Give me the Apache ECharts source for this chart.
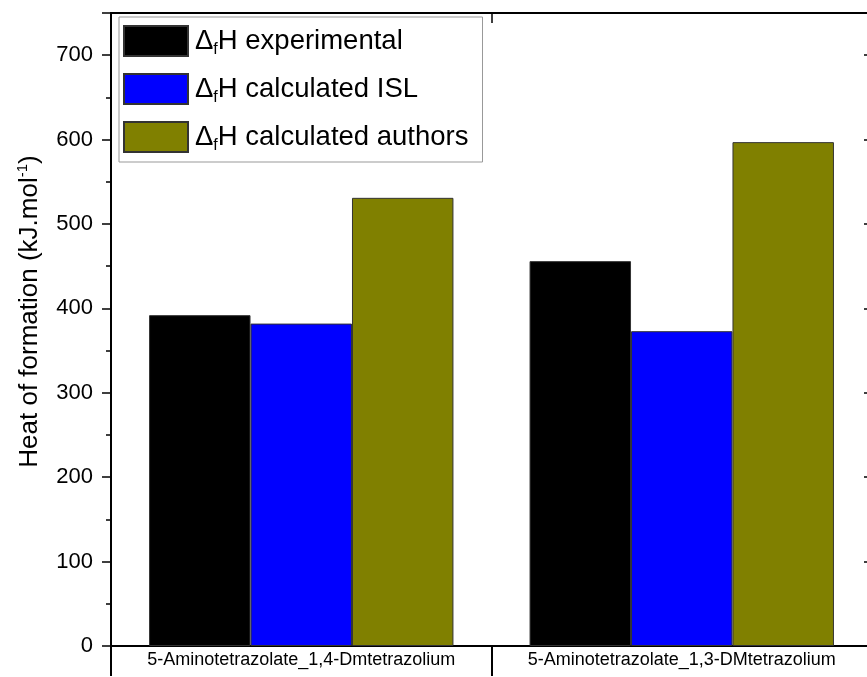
<!DOCTYPE html>
<html>
<head>
<meta charset="utf-8">
<script src="https://cdn.jsdelivr.net/npm/echarts@6/dist/echarts.min.js"></script>
<style>
  html, body { margin: 0; padding: 0; overflow: hidden; background: #fff; }
  #chart { width: 880px; height: 677px; }
</style>
</head>
<body>
<div id="chart"></div>
<script>
  var categories = ['5-Aminotetrazolate_1,4-Dmtetrazolium', '5-Aminotetrazolate_1,3-DMtetrazolium'];
  var seriesNames = ['experimental', 'calculated ISL', 'calculated authors'];
  var experimental = [392, 456];
  var calcISL = [382, 373];
  var calcAuthors = [531, 597];
  var colors = ['#000000', '#0000ff', '#808000'];

  var font = 'Liberation Sans, Arial, sans-serif';
  var chart = echarts.init(document.getElementById('chart'));

  function bar(name, data, color) {
    return {
      name: name,
      type: 'bar',
      data: data,
      barGap: '0%',
      barCategoryGap: '20%',
      itemStyle: { color: color, borderColor: '#333', borderWidth: 1 }
    };
  }

  var option = {
    animation: false,
    textStyle: { fontFamily: font },
    grid: { left: 111, right: 8, top: 13, bottom: 31 },
    legend: {
      orient: 'vertical',
      left: 119,
      top: 17,
      itemWidth: 64,
      itemHeight: 30,
      itemGap: 15,
      padding: [8, 14, 8, 4],
      borderColor: '#999',
      borderWidth: 1,
      backgroundColor: '#fff',
      icon: 'rect',
      data: seriesNames,
      formatter: function (n) { return '{a|Δ}{s|f}{a|H ' + n + '}'; },
      textStyle: {
        fontFamily: font,
        padding: [0, 0, 0, 2],
        rich: {
          a: { fontSize: 27.5, color: '#000', fontFamily: font },
          s: { fontSize: 16, color: '#000', fontFamily: font, verticalAlign: 'bottom', padding: [18, 0, 0, 0] }
        }
      }
    },
    xAxis: [
      {
        type: 'category',
        data: categories,
        position: 'bottom',
        axisLine: { lineStyle: { color: '#000', width: 2 } },
        axisTick: { show: true, interval: 0, length: 30, lineStyle: { color: '#000', width: 2 } },
        axisLabel: { interval: 0, fontSize: 18, color: '#000', margin: 5, fontFamily: font }
      },
      {
        type: 'category',
        data: categories,
        position: 'bottom',
        offset: 30,
        axisLine: { lineStyle: { color: '#000', width: 2 } },
        axisTick: { show: false },
        axisLabel: { show: false }
      },
      {
        type: 'category',
        data: categories,
        position: 'top',
        axisLine: { lineStyle: { color: '#000', width: 2 } },
        axisTick: { show: true, inside: true, interval: 0, length: 10, lineStyle: { color: '#000', width: 1.5 } },
        axisLabel: { show: false }
      }
    ],
    yAxis: [
      {
        type: 'value',
        min: 0,
        max: 750,
        interval: 100,
        name: '{t|Heat of formation (kJ.mol}{sup|-1}{t|)}',
        nameLocation: 'middle',
        nameGap: 67,
        nameTextStyle: {
          padding: [0, 0, 0, 36],
          rich: {
            t: { fontSize: 26, color: '#000', fontFamily: font },
            sup: { fontSize: 15, color: '#000', fontFamily: font, verticalAlign: 'top', padding: [0, 0, 14, 0] }
          }
        },
        axisLine: { show: true, lineStyle: { color: '#000', width: 2 } },
        axisTick: { show: true, length: 9, lineStyle: { color: '#000', width: 1.5 } },
        minorTick: { show: true, splitNumber: 2, length: 5, lineStyle: { color: '#000', width: 1.5 } },
        axisLabel: { fontSize: 22, color: '#000', margin: 18, showMaxLabel: false, fontFamily: font },
        splitLine: { show: false }
      },
      {
        type: 'value',
        min: 0,
        max: 750,
        interval: 100,
        position: 'right',
        axisLine: { show: true, lineStyle: { color: '#000', width: 2 } },
        axisTick: { show: true, inside: true, length: 8, lineStyle: { color: '#000', width: 1.5 } },
        axisLabel: { show: false },
        splitLine: { show: false }
      }
    ],
    series: [
      bar(seriesNames[0], experimental, colors[0]),
      bar(seriesNames[1], calcISL, colors[1]),
      bar(seriesNames[2], calcAuthors, colors[2])
    ]
  };

  chart.setOption(option);
</script>
</body>
</html>
